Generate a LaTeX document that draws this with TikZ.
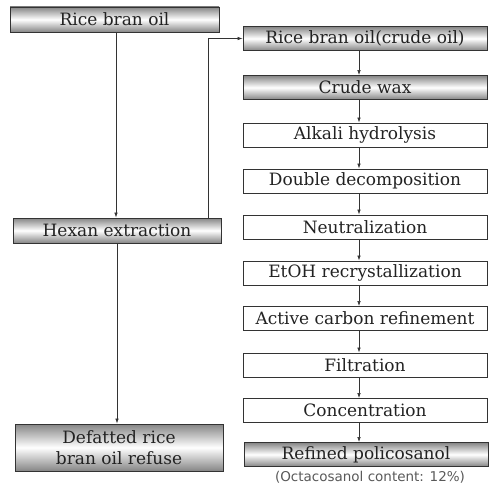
\documentclass[tikz,border=0pt]{standalone}
\usepackage{fontspec}
\setmainfont{DejaVu Serif}
\newfontfamily\capfont{DejaVu Sans}
\usetikzlibrary{arrows.meta}
\definecolor{boxline}{HTML}{333333}
\definecolor{shadegray}{HTML}{858585}
\definecolor{txt}{HTML}{222222}
\tikzset{
  base/.style={draw=boxline, line width=0.9pt, text=txt, inner sep=0pt, align=center,
    font=\fontsize{17}{21}\selectfont},
  gbox/.style={base, top color=shadegray, bottom color=shadegray, middle color=white},
  wbox/.style={base, fill=white},
  rbox/.style={minimum width=244pt, minimum height=24pt},
  conn/.style={draw=boxline, line width=0.6pt, -{Latex[length=5pt,width=3.5pt]}}
}
\begin{document}
\begin{tikzpicture}[x=1pt,y=-1pt]
\useasboundingbox (0,0) rectangle (492,484);
% left column
\node[gbox, minimum width=209pt, minimum height=25pt] (rbo) at (114.5,19.5) {Rice bran oil};
\node[gbox, minimum width=208pt, minimum height=25pt] (hex) at (117,230.5) {Hexan extraction};
\node[gbox, minimum width=208pt, minimum height=47pt] (def) at (119,447.5) {Defatted rice\\bran oil refuse};
% right column
\node[gbox, rbox] (r1) at (365,38.5) {Rice bran oil(crude oil)};
\node[gbox, rbox] (r2) at (365,87.5) {Crude wax};
\node[wbox, rbox] (r3) at (365,135) {Alkali hydrolysis};
\node[wbox, rbox] (r4) at (365,181) {Double decomposition};
\node[wbox, rbox] (r5) at (365,227) {Neutralization};
\node[wbox, rbox] (r6) at (365,273) {EtOH recrystallization};
\node[wbox, rbox] (r7) at (365,318.5) {Active carbon refinement};
\node[wbox, rbox] (r8) at (365,365) {Filtration};
\node[wbox, rbox] (r9) at (365,410.5) {Concentration};
\node[gbox, rbox] (r10) at (366,454.5) {Refined policosanol};
\node[text=black!65, font=\capfont\fontsize{13.5}{15}\selectfont, inner sep=0pt] (cap) at (370,477.5) {(Octacosanol content: 12\%)};
% connectors
\coordinate (ax) at (359,0);
\coordinate (turn) at (208,0);
\draw[conn] (rbo.south -| hex.north) ++(-1,0) coordinate (s1) -- (s1 |- hex.north);
\draw[conn] (hex.south) -- (hex.south |- def.north);
\draw[conn] (hex.north -| turn) |- (r1.west);
\draw[conn] (r1.south -| ax) -- (r2.north -| ax);
\draw[conn] (r2.south -| ax) -- (r3.north -| ax);
\draw[conn] (r3.south -| ax) -- (r4.north -| ax);
\draw[conn] (r4.south -| ax) -- (r5.north -| ax);
\draw[conn] (r5.south -| ax) -- (r6.north -| ax);
\draw[conn] (r6.south -| ax) -- (r7.north -| ax);
\draw[conn] (r7.south -| ax) -- (r8.north -| ax);
\draw[conn] (r8.south -| ax) -- (r9.north -| ax);
\draw[conn] (r9.south -| ax) -- (r10.north -| ax);
\end{tikzpicture}
\end{document}
